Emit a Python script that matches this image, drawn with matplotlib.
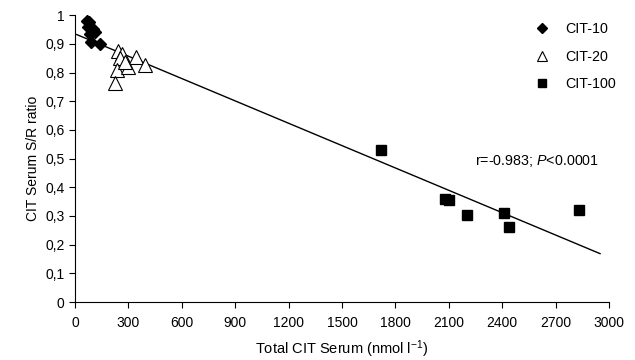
import numpy as np
import matplotlib
matplotlib.use("Agg")
import matplotlib.pyplot as plt

plt.rcParams['font.family'] = ['Liberation Sans', 'DejaVu Sans']
plt.rcParams['mathtext.fontset'] = 'custom'
plt.rcParams['mathtext.rm'] = 'Liberation Sans'
plt.rcParams['mathtext.it'] = 'Liberation Sans:italic'

# CIT-10
x10 = [65, 80, 75, 100, 85, 110, 90, 140]
y10 = [0.98, 0.975, 0.96, 0.95, 0.935, 0.94, 0.905, 0.90]
# CIT-20
x20 = [240, 265, 255, 235, 225, 300, 345, 395, 280]
y20 = [0.875, 0.865, 0.85, 0.81, 0.765, 0.82, 0.855, 0.825, 0.835]
# CIT-100
x100 = [1720, 2080, 2100, 2200, 2410, 2440, 2830]
y100 = [0.53, 0.36, 0.355, 0.305, 0.31, 0.26, 0.32]

xticks = list(range(0, 3001, 300))
yticks = [0, 0.1, 0.2, 0.3, 0.4, 0.5, 0.6, 0.7, 0.8, 0.9, 1]
ylabels = ['0', '0,1', '0,2', '0,3', '0,4', '0,5', '0,6', '0,7', '0,8', '0,9', '1']

fig = plt.figure(figsize=(6.35, 3.6), dpi=100)
ax = fig.add_axes([0.118, 0.161, 0.841, 0.797])

allx = np.array(x10 + x20 + x100)
ally = np.array(y10 + y20 + y100)
slope, icpt = np.polyfit(allx, ally, 1)
lx = np.array([10, 2950])
ax.plot(lx, icpt + slope * lx, color='black', lw=1)

ax.plot(x10, y10, 'D', ms=6.5, color='black', label='CIT-10')
ax.plot(x20, y20, '^', ms=10, mfc='white', mec='black', mew=0.8, label='CIT-20')
ax.plot(x100, y100, 's', ms=7.5, color='black', label='CIT-100')

ax.text(2250, 0.49, r'r=-0.983; $\mathit{P}$<0.0001', fontsize=10.3, va='center')

ax.set_xlim(0, 3000)
ax.set_ylim(0, 1)
ax.set_xticks(xticks)
ax.set_yticks(yticks)
ax.set_yticklabels(ylabels)
ax.tick_params(labelsize=10, length=4, width=0.8)
ax.tick_params(axis='x', pad=6)
ax.spines['top'].set_visible(False)
ax.spines['right'].set_visible(False)
ax.set_xlabel('Total CIT Serum (nmol l$^{-1}$)', fontsize=10.5, labelpad=6)
ax.set_ylabel('CIT Serum S/R ratio', fontsize=10)

leg = ax.legend(loc='upper right', frameon=False, fontsize=10.3, handletextpad=0.6,
                labelspacing=0.95, bbox_to_anchor=(1.037, 1.021), markerscale=0.75)

fig.savefig('out.png', dpi=100)
